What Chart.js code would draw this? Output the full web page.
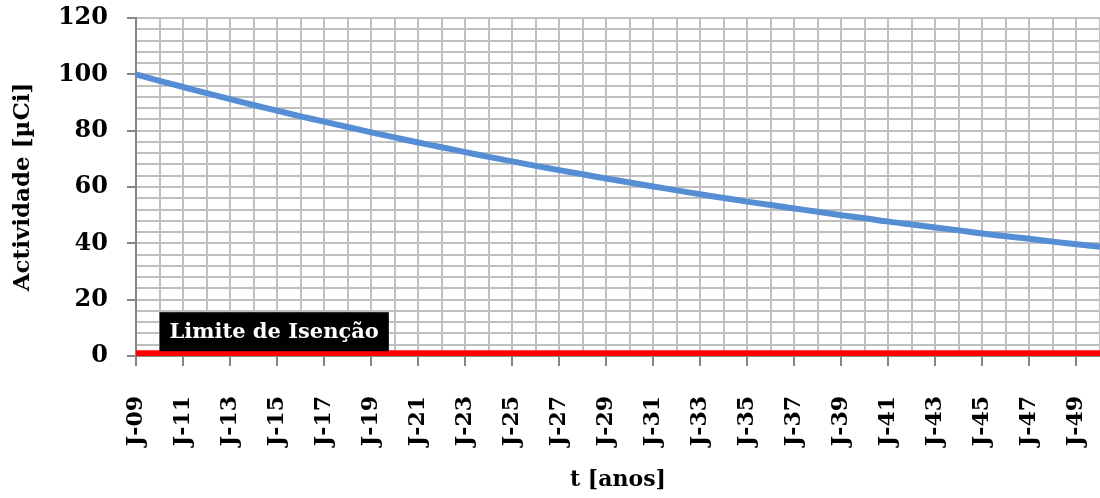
<!DOCTYPE html>
<html>
<head>
<meta charset="utf-8">
<script src="https://cdn.jsdelivr.net/npm/chart.js@4.4.1/dist/chart.umd.min.js"></script>
<style>
  html, body { margin: 0; padding: 0; background: #fff; }
  #wrap { width: 1100px; height: 498px; }
</style>
</head>
<body>
<div id="wrap"><canvas id="chart"></canvas></div>
<script>
// anos (Janeiro de cada ano)
const anos = ['J-09', 'J-10', 'J-11', 'J-12', 'J-13', 'J-14', 'J-15', 'J-16', 'J-17', 'J-18',
  'J-19', 'J-20', 'J-21', 'J-22', 'J-23', 'J-24', 'J-25', 'J-26', 'J-27', 'J-28',
  'J-29', 'J-30', 'J-31', 'J-32', 'J-33', 'J-34', 'J-35', 'J-36', 'J-37', 'J-38',
  'J-39', 'J-40', 'J-41', 'J-42', 'J-43', 'J-44', 'J-45', 'J-46', 'J-47', 'J-48',
  'J-49', 'J-50'];

// actividade [µCi]
const actividade = [100, 97.7, 95.5, 93.3, 91.2, 89.1, 87.1, 85.1, 83.2, 81.3,
  79.4, 77.6, 75.8, 74.1, 72.4, 70.7, 69.1, 67.5, 66.0, 64.5,
  63.0, 61.6, 60.2, 58.8, 57.4, 56.1, 54.8, 53.6, 52.4, 51.2,
  50.0, 48.9, 47.7, 46.7, 45.6, 44.6, 43.5, 42.5, 41.6, 40.6,
  39.7, 38.8];

// limite de isenção [µCi]
const limite = [1, 1, 1, 1, 1, 1, 1, 1, 1, 1, 1, 1, 1, 1, 1, 1, 1, 1, 1, 1, 1,
  1, 1, 1, 1, 1, 1, 1, 1, 1, 1, 1, 1, 1, 1, 1, 1, 1, 1, 1, 1, 1];

const limiteTexto = 'Limite de Isenção';

const FONT = 'DejaVu Serif';
const GRID = '#bfbfbf';
const AXIS = '#868686';

// etiqueta preta sobre o ponto 1 da série do limite
const limiteLabel = {
  id: 'limiteLabel',
  afterDatasetsDraw(chart) {
    const meta = chart.getDatasetMeta(1);
    const pt = meta.data[1];
    if (!pt) return;
    const ctx = chart.ctx;
    ctx.save();
    ctx.font = `bold 21px "${FONT}"`;
    const w = ctx.measureText(limiteTexto).width + 20;
    const h = 39;
    const x = pt.x;
    const y = pt.y - 2 - h;
    ctx.fillStyle = '#000';
    ctx.fillRect(x, y, w, h);
    ctx.fillStyle = '#fff';
    ctx.textAlign = 'center';
    ctx.textBaseline = 'middle';
    ctx.fillText(limiteTexto, x + w / 2, y + h / 2 + 1);
    ctx.restore();
  },
};

Chart.defaults.font.family = FONT;
Chart.defaults.font.weight = 'bold';
Chart.defaults.color = '#000';

new Chart(document.getElementById('chart').getContext('2d'), {
  type: 'line',
  data: {
    labels: anos,
    datasets: [{
      label: 'Actividade',
      data: actividade,
      borderColor: '#558ed5',
      borderWidth: 6,
      pointRadius: 0,
      tension: 0.3,
      fill: false,
    }, {
      label: limiteTexto,
      data: limite,
      borderColor: '#ff0000',
      borderWidth: 6,
      pointRadius: 0,
      fill: false,
    }],
  },
  options: {
    responsive: true,
    maintainAspectRatio: false,
    animation: false,
    layout: { padding: { top: 18, left: 0, right: 0, bottom: 0 } },
    plugins: {
      legend: { display: false },
      tooltip: { enabled: false },
    },
    scales: {
      x: {
        offset: false,
        grid: {
          color: GRID,
          lineWidth: 2,
          tickLength: 10,
          tickColor: (c) => (c.index % 2 === 0 ? AXIS : 'rgba(0,0,0,0)'),
          tickWidth: 2,
        },
        border: { color: AXIS, width: 2 },
        ticks: {
          autoSkip: false,
          minRotation: 90,
          maxRotation: 90,
          padding: 30,
          font: { size: 22, weight: 'bold' },
          callback: (v, i) => (i % 2 === 0 ? anos[i] : ''),
        },
        title: {
          display: true,
          text: 't [anos]',
          font: { size: 22, weight: 'bold' },
          padding: { top: 0, bottom: 5 },
        },
        afterFit: (s) => { s.height = 142; s.paddingLeft = 0; s.paddingRight = 0; },
      },
      y: {
        min: 0,
        max: 120,
        grid: {
          color: GRID,
          lineWidth: 2,
          tickLength: 9,
          tickColor: (c) => (c.tick && c.tick.value % 20 === 0 ? AXIS : 'rgba(0,0,0,0)'),
          tickWidth: 2,
        },
        border: { color: AXIS, width: 2 },
        ticks: {
          stepSize: 4,
          maxTicksLimit: 100,
          autoSkip: false,
          padding: 19,
          font: { size: 24, weight: 'bold' },
          callback: (v) => (v % 20 === 0 ? v : ''),
        },
        title: {
          display: true,
          text: 'Actividade [µCi]',
          font: { size: 23, weight: 'bold' },
          padding: { top: 9, bottom: 0 },
        },
        afterFit: (s) => { s.width = 136; s.paddingTop = 0; s.paddingBottom = 0; },
      },
    },
  },
  plugins: [limiteLabel],
});
</script>
</body>
</html>
